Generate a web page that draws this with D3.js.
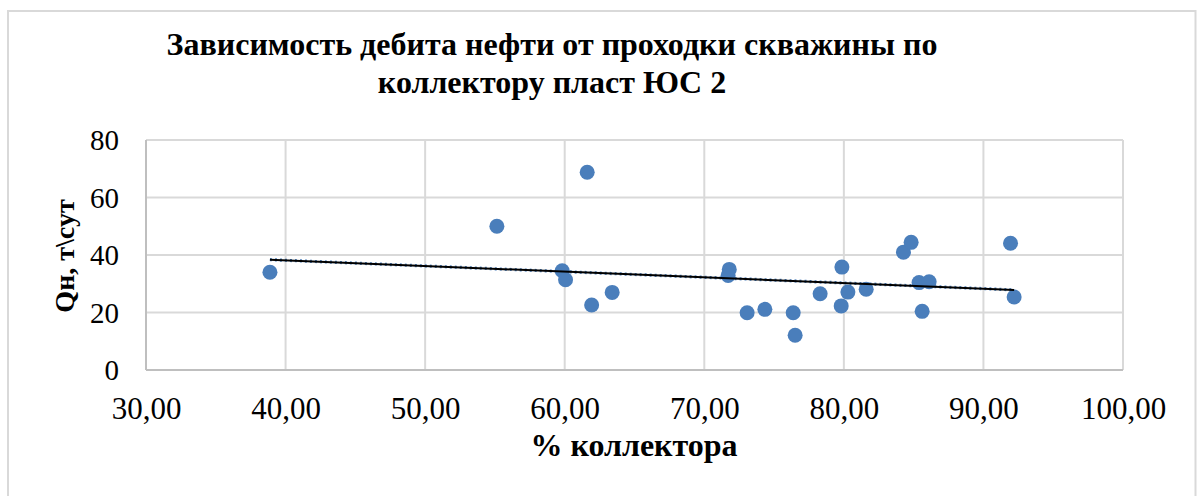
<!DOCTYPE html>
<html><head><meta charset="utf-8">
<script src="https://cdn.jsdelivr.net/npm/d3@7"></script>
<style>html,body{margin:0;padding:0;background:#fff;overflow:hidden}</style>
</head><body>
<svg id="c" width="1197" height="496"></svg>
<script>
const titleLines = ["Зависимость дебита нефти от проходки скважины по", "коллектору пласт ЮС 2"];
const xTitle = "% коллектора";
const yTitle = "Qн, т\\сут";
const xTicks = [30, 40, 50, 60, 70, 80, 90, 100];
const yTicks = [0, 20, 40, 60, 80];
const collectorPct = [38.88, 55.14, 61.61, 59.82, 60.06, 61.93, 63.40, 71.79, 71.71, 73.07, 74.34, 76.37, 76.51, 78.30, 79.86, 79.81, 80.29, 81.60, 84.27, 84.82, 85.39, 86.11, 85.61, 91.94, 92.20];
const oilRate = [34.0, 50.0, 68.8, 34.5, 31.4, 22.6, 27.0, 35.0, 32.9, 19.9, 21.1, 19.9, 12.1, 26.5, 35.8, 22.3, 27.1, 28.1, 41.0, 44.4, 30.4, 30.7, 20.4, 44.1, 25.4];

const svg = d3.select("#c");
const font = "'Liberation Serif','Times New Roman',serif";
const L = 146, R = 1123, T = 140, B = 370;
const x = d3.scaleLinear().domain([30, 100]).range([L, R]);
const y = d3.scaleLinear().domain([0, 80]).range([B, T]);

// outer frame
svg.append("rect").attr("x", 8).attr("y", 11).attr("width", 1187.5).attr("height", 500)
  .attr("fill", "#fff").attr("stroke", "#d9d9d9").attr("stroke-width", 2);

// title
svg.append("g").selectAll("text").data(titleLines).join("text")
  .attr("x", 552).attr("y", (d, i) => 55 + i * 38)
  .attr("text-anchor", "middle").attr("font-family", font).attr("font-weight", "bold")
  .attr("font-size", 32).attr("fill", "#000").text(d => d);

// gridlines
const grid = svg.append("g");
grid.selectAll(".gx").data(xTicks).join("line")
  .attr("x1", d => x(d)).attr("x2", d => x(d)).attr("y1", T).attr("y2", B)
  .attr("stroke", "#d9d9d9").attr("stroke-width", 2);
grid.selectAll(".gy").data(yTicks).join("line")
  .attr("x1", L).attr("x2", R).attr("y1", d => y(d)).attr("y2", d => y(d))
  .attr("stroke", "#d9d9d9").attr("stroke-width", 2);
// axis lines
svg.append("line").attr("x1", L).attr("x2", R).attr("y1", B).attr("y2", B)
  .attr("stroke", "#bfbfbf").attr("stroke-width", 2);
svg.append("line").attr("x1", L).attr("x2", L).attr("y1", T).attr("y2", B)
  .attr("stroke", "#bfbfbf").attr("stroke-width", 2);

// axes labels via d3 axes
const xAxis = d3.axisBottom(x).tickValues(xTicks).tickSize(0).tickPadding(0)
  .tickFormat(d => d3.format(".2f")(d).replace(".", ","));
const gx = svg.append("g").attr("transform", `translate(0,${B})`).call(xAxis);
gx.select(".domain").remove();
gx.selectAll("text").attr("font-family", font).attr("font-size", 31).attr("fill", "#000")
  .attr("dy", null).attr("y", 48.5);

const yAxis = d3.axisLeft(y).tickValues(yTicks).tickSize(0).tickPadding(0).tickFormat(d3.format("d"));
const gy = svg.append("g").attr("transform", `translate(119,0)`).call(yAxis);
gy.select(".domain").remove();
gy.selectAll("text").attr("font-family", font).attr("font-size", 29).attr("fill", "#000")
  .attr("dy", "0.34em");

// axis titles
svg.append("text").attr("x", 634).attr("y", 456).attr("text-anchor", "middle")
  .attr("font-family", font).attr("font-weight", "bold").attr("font-size", 32).text(xTitle);
svg.append("text").attr("transform", "translate(74,256) rotate(-90)").attr("text-anchor", "middle")
  .attr("font-family", font).attr("font-weight", "bold").attr("font-size", 28).text(yTitle);

// points
const pts = collectorPct.map((v, i) => [v, oilRate[i]]);
svg.append("g").selectAll("circle").data(pts).join("circle")
  .attr("cx", d => x(d[0])).attr("cy", d => y(d[1])).attr("r", 7.5).attr("fill", "#4a7ebb");

// linear trendline (least squares)
const mx = d3.mean(collectorPct), my = d3.mean(oilRate);
const slope = d3.sum(pts, d => (d[0] - mx) * (d[1] - my)) / d3.sum(pts, d => (d[0] - mx) ** 2);
const icpt = my - slope * mx;
const xr = d3.extent(collectorPct);
const tl = xr.map(v => [v, icpt + slope * v]);
const line = d3.line().x(d => x(d[0])).y(d => y(d[1]));
svg.append("path").datum(tl).attr("d", line).attr("fill", "none")
  .attr("stroke", "#4a7ebb").attr("stroke-width", 3.2).attr("stroke-dasharray", "2,3");
svg.append("path").datum(tl).attr("d", line).attr("fill", "none")
  .attr("stroke", "#000").attr("stroke-width", 2);
</script>
</body></html>
